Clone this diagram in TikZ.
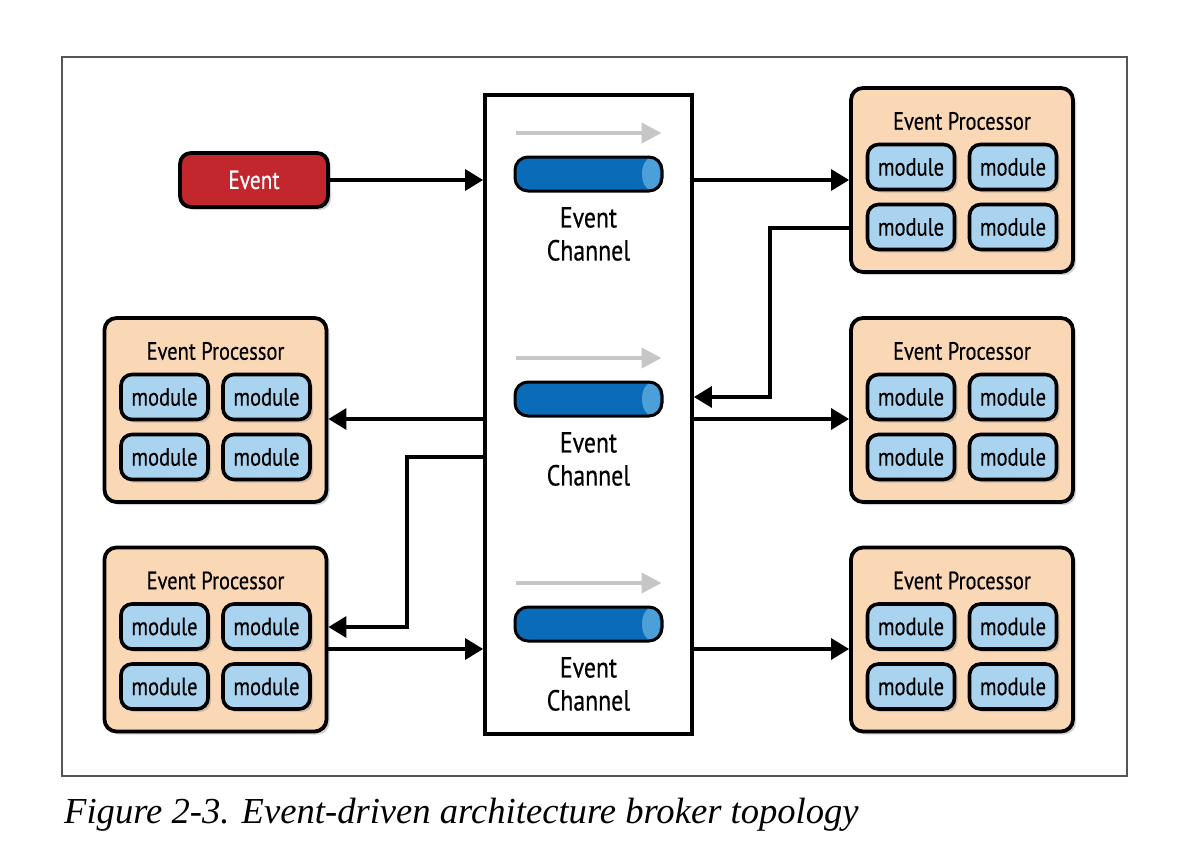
\documentclass[tikz,border=0pt]{standalone}
\usepackage{fontspec}
\newfontfamily\diagfont[FakeStretch=0.82,FakeBold=0.4]{PT Sans}
\newfontfamily\capfont{Liberation Serif}
\usetikzlibrary{arrows.meta,shapes.geometric,shadows,calc,positioning}

\definecolor{eventred}{HTML}{C1272D}
\definecolor{procpeach}{HTML}{FAD8B6}
\definecolor{modblue}{HTML}{A9D3EF}
\definecolor{chanblue}{HTML}{0A6CB8}
\definecolor{chancap}{HTML}{4D9FD8}
\definecolor{flowgray}{HTML}{C6C6C6}
\definecolor{framegray}{HTML}{555555}

\tikzset{
  boxshadow/.style={drop shadow={opacity=0.35, shadow xshift=3pt, shadow yshift=-3pt}},
  proc/.style={draw, line width=3.8pt, fill=procpeach, rounded corners=12pt,
    minimum width=222pt, minimum height=184pt, boxshadow},
  proctitle/.style={font=\diagfont\fontsize{25}{25}\selectfont, inner sep=0pt},
  mod/.style={draw, line width=3.6pt, fill=modblue, rounded corners=11pt,
    minimum width=87pt, minimum height=45pt, inner sep=0pt, boxshadow,
    font=\diagfont\fontsize{25}{25}\selectfont},
  evbox/.style={draw, line width=3.8pt, fill=eventred, rounded corners=11pt,
    minimum width=148pt, minimum height=54pt, text=white, boxshadow,
    font=\diagfont\fontsize{26}{26}\selectfont},
  chan/.style={draw, line width=3pt, fill=chanblue, rounded corners=13pt,
    minimum width=147pt, minimum height=34pt, inner sep=0pt,
    path picture={\fill[chancap] ($(path picture bounding box.east)+(-11,0)$)
      ellipse [x radius=9pt, y radius=16pt];}},
  chantext/.style={align=center, font=\diagfont\fontsize{29}{33}\selectfont, inner sep=0pt},
  chanflow/.style={draw=flowgray, line width=4pt, -{Triangle[length=20pt,width=20pt]}},
  flow/.style={line width=3.3pt, -{Triangle[length=18pt,width=21pt]}},
}

% one event processor with its four modules
\newcommand{\evproc}[3]{%
  \node[proc] (#1) at (#2,#3) {};
  \node[proctitle] (#1-t) at ($(#1)+(0,-59)$) {Event Processor};
  \node[mod] (#1-a) at ($(#1)+(-51,-13)$) {module};
  \node[mod] (#1-b) at ($(#1)+(51,-13)$) {module};
  \node[mod] (#1-c) at ($(#1)+(-51,47)$) {module};
  \node[mod] (#1-d) at ($(#1)+(51,47)$) {module};
}

\begin{document}
\begin{tikzpicture}[x=1pt,y=-1pt]
  \useasboundingbox (0,0) rectangle (1200,859);
  \fill[white] (0,0) rectangle (1200,859);

  % Рамка
  \draw[framegray, line width=1.2pt] (62,57) rectangle (1127,776);

  % Брокер
  \node[draw, line width=3.8pt, fill=white, minimum width=207pt, minimum height=639pt,
    inner sep=0pt] (broker) at (588.5,414.5) {};
  \foreach \i/\y in {1/174, 2/399, 3/624}{
    \node[chan] (c\i) at (588.5,\y) {};
    \draw[chanflow] ($(c\i.west)+(2,-41)$) -- ($(c\i.east)+(-2,-41)$);
    \node[chantext] (c\i-t) at ($(c\i)+(0,60)$) {Event\\Channel};
  }

  % Подія та обробники
  \node[evbox] (event) at (254,180) {Event};
  \evproc{pr1}{962}{180}
  \evproc{pr2}{962}{410}
  \evproc{pr3}{962}{639.5}
  \evproc{pl2}{215.5}{410}
  \evproc{pl3}{215.5}{639.5}

  % Зʼєднання
  \coordinate (r1) at (770,228);
  \coordinate (r2) at (770,397);
  \coordinate (l1) at (407,457);
  \coordinate (l2) at (407,627);
  \draw[flow] (event.east) -- (event.east -| broker.west);
  \draw[flow] (pr1.west -| broker.east) -- (pr1.west);
  \draw[flow] (r1 -| pr1.west) -- (r1) -- (r2) -- (r2 -| broker.east);
  \draw[flow] (broker.east |- 0,419) -- (pr2.west |- 0,419);
  \draw[flow] (broker.west |- 0,419) -- (pl2.east |- 0,419);
  \draw[flow] (l1 -| broker.west) -- (l1) -- (l2) -- (l2 -| pl3.east);
  \draw[flow] (pl3.east |- 0,649) -- (broker.west |- 0,649);
  \draw[flow] (broker.east |- 0,649) -- (pr3.west |- 0,649);

  % Підпис
  \node[anchor=base west, inner sep=0pt, font=\capfont\fontsize{36.6}{36.6}\selectfont\itshape]
    (caption) at (64,823) {Figure 2-3. Event-driven architecture broker topology};
\end{tikzpicture}
\end{document}
